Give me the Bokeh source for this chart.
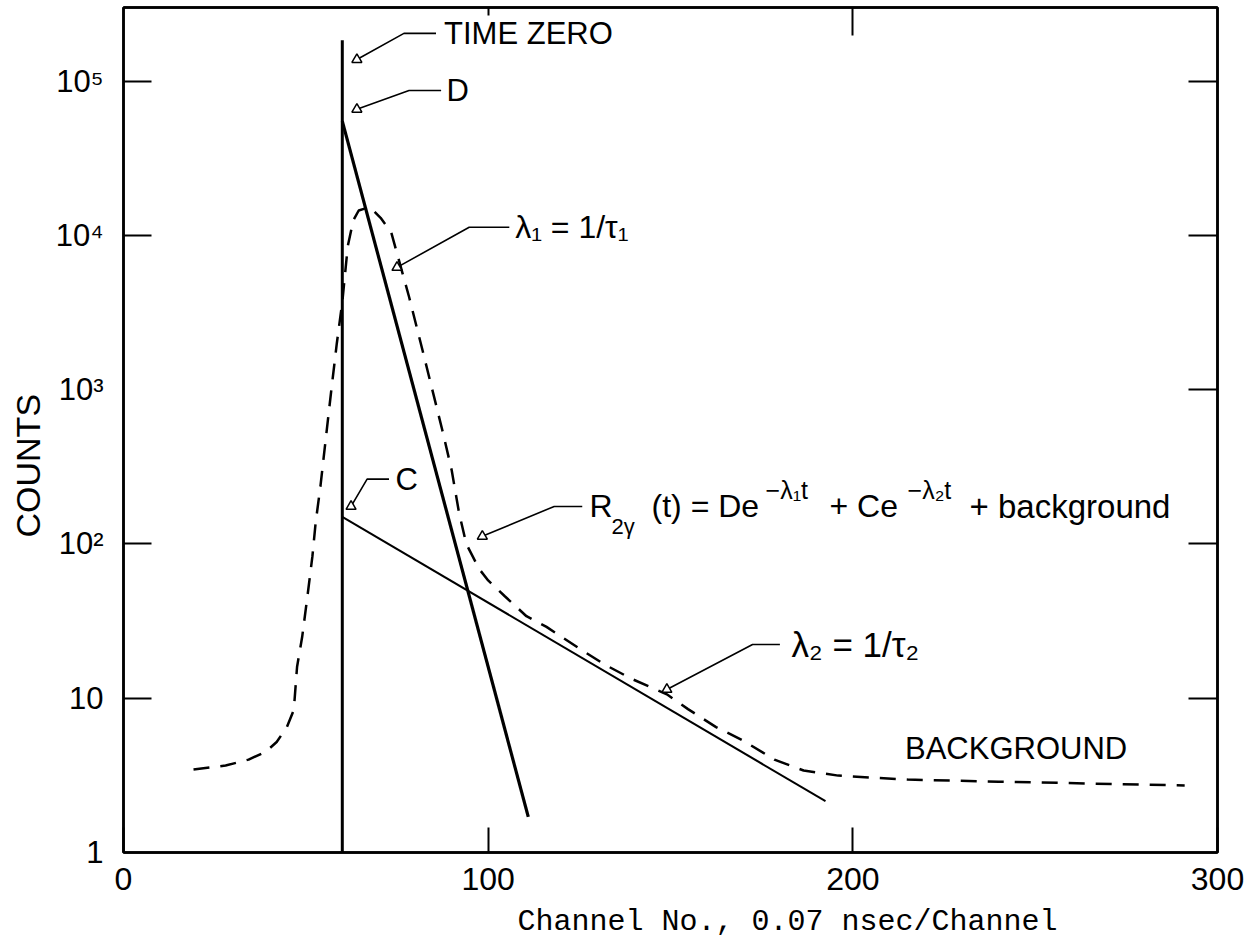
from bokeh.plotting import figure
from bokeh.models import LogAxis, LinearAxis, FixedTicker, Title, ColumnDataSource, Range1d
from bokeh.embed import file_html
from bokeh.resources import INLINE
from bokeh.core.properties import value

# ---------------- data ----------------
x_ticks = [0, 100, 200, 300]
x_tick_labels = ["0", "100", "200", "300"]
y_ticks = [1, 10, 100, 1000, 10000, 100000]
y_tick_labels = ["1", "10", "10\u00b2", "10\u00b3", "10\u2074", "10\u2075"]
y_left_marks = [10, 100, 10000, 100000]
y_right_marks = [10, 100, 1000, 10000, 100000]

time_zero_channels = [60, 60]
time_zero_counts = [1, 1.84e5]

d_channels = [60, 111]
d_counts = [5.5e4, 1.7]

c_channels = [60, 192.5]
c_counts = [150, 2.15]

r_channels = [19.2, 28, 34.3, 39, 42, 44.8, 46.7, 47.6, 49, 50.4, 51.8, 52.7, 54, 55.4,
              57, 58.5, 60, 61.5, 63, 64.5, 66.5, 68.5, 70.5, 73.4, 78.3, 82, 87.4, 90,
              92, 94, 97.5, 100, 104.5, 110.5, 116, 125, 132, 139.5, 149, 154.8, 162.5,
              170, 178.5, 186.5, 196, 205, 215, 240, 265, 291]
r_counts = [3.45, 3.66, 4.0, 4.5, 5.2, 6.5, 8.4, 16, 25, 45, 83, 138, 236, 465,
            1000, 2000, 3700, 8500, 12500, 14500, 15000, 14500, 13000, 10500, 4000, 1800, 550, 300,
            160, 100, 69, 58, 46, 34, 29, 21, 16.5, 13.3, 10.6, 8.5, 6.5,
            5.3, 4.0, 3.4, 3.15, 3.06, 2.97, 2.88, 2.8, 2.72]

# annotation pointers: marker on curve, elbow, end of leader
ann_marker_ch = [64, 64, 75, 62.4, 98.4, 149]
ann_marker_counts = [1.38e5, 6.56e4, 6.2e3, 175, 112, 11.4]
ann_elbow_ch = [76.9, 78.3, 94.8, 66.8, 118.1, 172.5]
ann_elbow_counts = [2.04e5, 8.7e4, 1.13e4, 263, 175, 22.3]
ann_end_ch = [85.7, 87.1, 105.8, 72.8, 125.8, 180]

label_texts = ["TIME ZERO", "D", "\u03bb\u2081 = 1/\u03c4\u2081", "C", "\u03bb\u2082 = 1/\u03c4\u2082", "BACKGROUND"]
label_ch = [87.9, 88.6, 107.4, 74.6, 183.2, 214.3]
label_counts = [2.04e5, 8.7e4, 1.13e4, 263, 22.3, 4.72]
label_sizes = ["31px", "31px", "32px", "31px", "35px", "31px"]

formula_texts = ["R", "2\u03b3", "(t) = De", "\u2212\u03bb\u2081t", "+ Ce", "\u2212\u03bb\u2082t", "+ background"]
formula_ch = 127.8
formula_counts = 175

x_title = "Channel No., 0.07 nsec/Channel"
y_title = "COUNTS"

# ---------------- figure ----------------
p = figure(frame_width=1094, frame_height=845,
           x_range=Range1d(0, 300), y_range=Range1d(1, 3.0e5),
           y_axis_type="log", y_axis_location=None, x_axis_location="below",
           output_backend="svg", toolbar_location=None,
           min_border_left=117, min_border_right=29, min_border_top=7, min_border_bottom=88,
           background_fill_color="white", border_fill_color="white")
p.grid.visible = False
p.outline_line_color = "black"
p.outline_line_width = 2.5

FONT = "Liberation Sans"

xa = p.xaxis[0]
xa.ticker = FixedTicker(ticks=x_ticks, minor_ticks=[])
xa.major_label_overrides = dict(zip(x_ticks, x_tick_labels))
xa.major_tick_in = 25
xa.major_tick_out = 0
xa.major_tick_line_width = 2
xa.axis_line_width = 2.5
xa.major_label_text_font = FONT
xa.major_label_text_font_size = "32px"
xa.major_label_standoff = 15
xa.major_label_text_color = "black"

yl = LogAxis(ticker=FixedTicker(ticks=y_ticks, minor_ticks=y_left_marks),
             major_label_overrides=dict(zip(y_ticks, y_tick_labels)),
             major_tick_line_color=None,
             minor_tick_in=28, minor_tick_out=0, minor_tick_line_width=2,
             axis_line_width=2.5,
             major_label_text_font=FONT, major_label_text_font_size="31px",
             major_label_standoff=14, major_label_text_color="black")
p.add_layout(yl, "left")

p.add_layout(Title(text=y_title, align="left", offset=315,
                   text_font=FONT, text_font_size="34px", text_font_style="normal",
                   text_color="black", standoff=12), "left")

yr = LogAxis(ticker=FixedTicker(ticks=[], minor_ticks=y_right_marks),
             major_tick_line_color=None,
             minor_tick_in=29, minor_tick_out=0, minor_tick_line_width=2,
             axis_line_width=2.5, major_label_standoff=0)
p.add_layout(yr, "right")

xt = LinearAxis(ticker=FixedTicker(ticks=[200], minor_ticks=[100]),
                major_label_overrides={200: ""},
                major_tick_in=28, major_tick_out=0, major_tick_line_width=2,
                minor_tick_in=8, minor_tick_out=0, minor_tick_line_width=2,
                axis_line_width=2.5, major_label_standoff=0,
                major_label_text_font_size="1px")
p.add_layout(xt, "above")

p.add_layout(Title(text=x_title, align="left", offset=394,
                   text_font="Liberation Mono", text_font_size="30px",
                   text_font_style="normal", text_color="black", standoff=21), "below")

# ---------------- curves ----------------
p.line(time_zero_channels, time_zero_counts, line_color="black", line_width=3)
p.line(d_channels, d_counts, line_color="black", line_width=3.2)
p.line(c_channels, c_counts, line_color="black", line_width=2)
p.line(r_channels, r_counts, line_color="black", line_width=2.5, line_dash="16 11")

# ---------------- annotations ----------------
lead_xs = [[m, e, n] for m, e, n in zip(ann_marker_ch, ann_elbow_ch, ann_end_ch)]
lead_ys = [[m, e, e] for m, e in zip(ann_marker_counts, ann_elbow_counts)]
p.multi_line(lead_xs, lead_ys, line_color="black", line_width=1.6)
p.scatter(ann_marker_ch, ann_marker_counts, marker="triangle", size=10,
          fill_color="white", line_color="black", line_width=1.5)

lab_src = ColumnDataSource(dict(x=label_ch, y=label_counts, text=label_texts, size=label_sizes))
p.text("x", "y", text="text", source=lab_src, text_font=value(FONT),
       text_font_size="size", text_align="left", text_baseline="middle", text_color="black")

f_src = ColumnDataSource(dict(
    x=[formula_ch] * len(formula_texts),
    y=[formula_counts] * len(formula_texts),
    text=formula_texts,
    dx=[0, 22, 62, 176, 240, 318, 380],
    dy=[0, 20, 0, -16, 0, -16, 0],
    size=["32px", "22px", "32px", "25px", "32px", "25px", "33px"]))
p.text("x", "y", text="text", source=f_src, x_offset="dx", y_offset="dy",
       text_font=value(FONT), text_font_size="size", text_align="left",
       text_baseline="middle", text_color="black")

open("out.html", "w").write(file_html(p, INLINE))
